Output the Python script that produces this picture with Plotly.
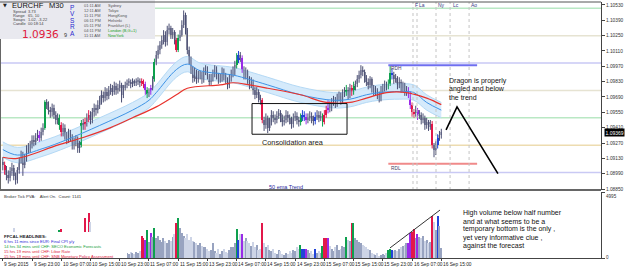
import plotly.graph_objects as go

# ---------------- data ----------------
tick_bars = [0, 16, 32, 48, 64, 80, 96, 112, 128, 144, 160, 176, 192, 208, 224, 240]
tick_text = ["9 Sep 2015", "9 Sep 23:00", "10 Sep 07:00", "10 Sep 15:00", "10 Sep 23:00",
             "11 Sep 07:00", "11 Sep 15:00", "13 Sep 23:00", "14 Sep 07:00", "14 Sep 15:00",
             "14 Sep 23:00", "15 Sep 07:00", "15 Sep 15:00", "15 Sep 23:00", "16 Sep 07:00",
             "16 Sep 15:00"]

opens = [
 1.0910, 1.0907, 1.0902, 1.0898, 1.0895, 1.0901, 1.0904, 1.0897, 1.0893, 1.0902,
 1.0911, 1.0916, 1.0907, 1.0913, 1.0921, 1.0922, 1.0925, 1.0930, 1.0928, 1.0932,
 1.0934, 1.0932, 1.0937, 1.0941, 1.0964, 1.0962, 1.0957, 1.0955, 1.0959, 1.0953,
 1.0948, 1.0950, 1.0943, 1.0937, 1.0941, 1.0934, 1.0930, 1.0936, 1.0932, 1.0925,
 1.0928, 1.0930, 1.0922, 1.0925, 1.0945, 1.0943, 1.0946, 1.0950, 1.0953, 1.0948,
 1.0955, 1.0959, 1.0957, 1.0962, 1.0966, 1.0971, 1.0968, 1.0974, 1.0970, 1.0975,
 1.0977, 1.0974, 1.0979, 1.0975, 1.0977, 1.0980, 1.0971, 1.0977, 1.0980, 1.0982,
 1.0983, 1.0981, 1.0983, 1.0982, 1.0983, 1.0984, 1.0982, 1.0983, 1.0981, 1.0975,
 1.0972, 1.0974, 1.0977, 1.0985, 1.1001, 1.1007, 1.1012, 1.1016, 1.1021, 1.1026,
 1.1019, 1.1030, 1.1032, 1.1026, 1.1028, 1.1021, 1.1012, 1.1023, 1.1026, 1.1035,
 1.1044, 1.1030, 1.1012, 1.1003, 1.0994, 1.0986, 1.0992, 1.0985, 1.0989, 1.0989,
 1.0985, 1.0992, 1.0994, 1.0988, 1.0983, 1.0986, 1.0990, 1.0994, 1.0989, 1.0985,
 1.0986, 1.0992, 1.0988, 1.0985, 1.0980, 1.0986, 1.0990, 1.0992, 1.0998, 1.1003,
 1.1007, 1.1005, 1.0994, 1.0989, 1.0992, 1.0985, 1.0980, 1.0983, 1.0975, 1.0971,
 1.0974, 1.0968, 1.0966, 1.0948, 1.0943, 1.0950, 1.0941, 1.0946, 1.0953, 1.0950,
 1.0948, 1.0952, 1.0954, 1.0950, 1.0946, 1.0948, 1.0953, 1.0950, 1.0948, 1.0944,
 1.0950, 1.0952, 1.0948, 1.0946, 1.0950, 1.0953, 1.0951, 1.0948, 1.0950, 1.0952,
 1.0949, 1.0947, 1.0951, 1.0953, 1.0950, 1.0952, 1.0946, 1.0953, 1.0957, 1.0962,
 1.0959, 1.0964, 1.0966, 1.0963, 1.0968, 1.0970, 1.0966, 1.0972, 1.0974, 1.0975,
 1.0971, 1.0977, 1.0974, 1.0979, 1.0981, 1.0985, 1.0989, 1.0994, 1.0992, 1.0986,
 1.0983, 1.0980, 1.0985, 1.0977, 1.0974, 1.0975, 1.0971, 1.0968, 1.0975, 1.0977,
 1.0980, 1.0979, 1.0981, 1.0991, 1.0989, 1.0985, 1.0986, 1.0980, 1.0983, 1.0977,
 1.0980, 1.0974, 1.0975, 1.0972, 1.0962, 1.0955, 1.0954, 1.0957, 1.0952, 1.0953,
 1.0948, 1.0950, 1.0943, 1.0946, 1.0942, 1.0944, 1.0925, 1.0921, 1.0925, 1.0932,
 1.0934]

highs = [
 1.0914, 1.0910, 1.0906, 1.0902, 1.0905, 1.0909, 1.0907, 1.0900, 1.0905, 1.0914,
 1.0920, 1.0919, 1.0917, 1.0925, 1.0927, 1.0929, 1.0934, 1.0934, 1.0936, 1.0939,
 1.0938, 1.0941, 1.0945, 1.0966, 1.0967, 1.0965, 1.0960, 1.0963, 1.0962, 1.0956,
 1.0954, 1.0953, 1.0946, 1.0945, 1.0944, 1.0937, 1.0940, 1.0939, 1.0935, 1.0932,
 1.0934, 1.0933, 1.0929, 1.0948, 1.0949, 1.0950, 1.0954, 1.0957, 1.0956, 1.0959,
 1.0963, 1.0962, 1.0966, 1.0970, 1.0975, 1.0974, 1.0978, 1.0977, 1.0979, 1.0981,
 1.0980, 1.0983, 1.0982, 1.0981, 1.0984, 1.0982, 1.0980, 1.0983, 1.0985, 1.0986,
 1.0985, 1.0986, 1.0985, 1.0986, 1.0987, 1.0986, 1.0986, 1.0985, 1.0983, 1.0978,
 1.0977, 1.0980, 1.0988, 1.1004, 1.1011, 1.1016, 1.1020, 1.1025, 1.1030, 1.1029,
 1.1034, 1.1036, 1.1034, 1.1032, 1.1030, 1.1023, 1.1026, 1.1030, 1.1039, 1.1048,
 1.1046, 1.1032, 1.1015, 1.1006, 1.0997, 1.0996, 1.0994, 1.0993, 1.0993, 1.0992,
 1.0996, 1.0998, 1.0997, 1.0990, 1.0990, 1.0994, 1.0998, 1.0997, 1.0991, 1.0990,
 1.0996, 1.0995, 1.0991, 1.0987, 1.0990, 1.0994, 1.0997, 1.1002, 1.1009, 1.1011,
 1.1010, 1.1007, 1.0997, 1.0996, 1.0994, 1.0988, 1.0987, 1.0985, 1.0978, 1.0978,
 1.0976, 1.0971, 1.0968, 1.0951, 1.0954, 1.0952, 1.0950, 1.0957, 1.0956, 1.0953,
 1.0956, 1.0958, 1.0957, 1.0953, 1.0952, 1.0957, 1.0956, 1.0953, 1.0951, 1.0954,
 1.0956, 1.0955, 1.0951, 1.0954, 1.0957, 1.0956, 1.0954, 1.0954, 1.0956, 1.0955,
 1.0952, 1.0955, 1.0957, 1.0956, 1.0956, 1.0954, 1.0957, 1.0961, 1.0966, 1.0965,
 1.0968, 1.0970, 1.0969, 1.0972, 1.0974, 1.0973, 1.0976, 1.0978, 1.0980, 1.0978,
 1.0981, 1.0980, 1.0983, 1.0984, 1.0989, 1.0993, 1.0998, 1.0997, 1.0994, 1.0989,
 1.0986, 1.0988, 1.0987, 1.0980, 1.0979, 1.0977, 1.0974, 1.0979, 1.0981, 1.0984,
 1.0983, 1.0985, 1.0998, 1.0995, 1.0992, 1.0990, 1.0988, 1.0987, 1.0985, 1.0983,
 1.0982, 1.0979, 1.0978, 1.0974, 1.0964, 1.0958, 1.0961, 1.0959, 1.0957, 1.0955,
 1.0954, 1.0952, 1.0950, 1.0948, 1.0948, 1.0947, 1.0927, 1.0929, 1.0935, 1.0938,
 1.0940]

lows = [
 1.0902, 1.0898, 1.0893, 1.0890, 1.0892, 1.0897, 1.0893, 1.0889, 1.0890, 1.0899,
 1.0908, 1.0897, 1.0904, 1.0910, 1.0917, 1.0918, 1.0922, 1.0924, 1.0925, 1.0929,
 1.0928, 1.0929, 1.0934, 1.0939, 1.0958, 1.0953, 1.0950, 1.0951, 1.0949, 1.0944,
 1.0944, 1.0939, 1.0933, 1.0933, 1.0930, 1.0926, 1.0927, 1.0928, 1.0921, 1.0921,
 1.0924, 1.0918, 1.0918, 1.0923, 1.0939, 1.0939, 1.0942, 1.0946, 1.0944, 1.0945,
 1.0951, 1.0952, 1.0954, 1.0958, 1.0962, 1.0964, 1.0965, 1.0966, 1.0967, 1.0971,
 1.0970, 1.0971, 1.0971, 1.0972, 1.0974, 1.0964, 1.0968, 1.0975, 1.0977, 1.0979,
 1.0977, 1.0978, 1.0979, 1.0979, 1.0980, 1.0978, 1.0979, 1.0977, 1.0971, 1.0968,
 1.0969, 1.0971, 1.0975, 1.0983, 1.0998, 1.1004, 1.1008, 1.1013, 1.1017, 1.1015,
 1.1016, 1.1026, 1.1022, 1.1022, 1.1017, 1.1010, 1.1010, 1.1020, 1.1024, 1.1032,
 1.1026, 1.1008, 1.0999, 1.0990, 1.0982, 1.0983, 1.0981, 1.0982, 1.0985, 1.0981,
 1.0982, 1.0989, 1.0985, 1.0979, 1.0980, 1.0983, 1.0987, 1.0985, 1.0981, 1.0982,
 1.0983, 1.0984, 1.0981, 1.0976, 1.0977, 1.0983, 1.0987, 1.0989, 1.0995, 1.1000,
 1.1001, 1.0991, 1.0985, 1.0985, 1.0981, 1.0976, 1.0977, 1.0971, 1.0967, 1.0968,
 1.0964, 1.0962, 1.0945, 1.0938, 1.0940, 1.0936, 1.0938, 1.0943, 1.0946, 1.0944,
 1.0945, 1.0949, 1.0946, 1.0942, 1.0943, 1.0945, 1.0946, 1.0944, 1.0940, 1.0941,
 1.0947, 1.0944, 1.0942, 1.0943, 1.0947, 1.0947, 1.0944, 1.0945, 1.0947, 1.0945,
 1.0943, 1.0944, 1.0948, 1.0946, 1.0947, 1.0942, 1.0944, 1.0950, 1.0954, 1.0955,
 1.0956, 1.0961, 1.0959, 1.0960, 1.0965, 1.0962, 1.0963, 1.0969, 1.0970, 1.0967,
 1.0968, 1.0970, 1.0971, 1.0975, 1.0978, 1.0982, 1.0986, 1.0988, 1.0982, 1.0979,
 1.0976, 1.0977, 1.0973, 1.0970, 1.0970, 1.0967, 1.0964, 1.0965, 1.0972, 1.0974,
 1.0975, 1.0976, 1.0979, 1.0985, 1.0981, 1.0982, 1.0976, 1.0977, 1.0973, 1.0974,
 1.0970, 1.0970, 1.0968, 1.0958, 1.0951, 1.0950, 1.0951, 1.0948, 1.0949, 1.0944,
 1.0945, 1.0939, 1.0940, 1.0938, 1.0939, 1.0922, 1.0914, 1.0916, 1.0922, 1.0929,
 1.0931]

closes = [
 1.0907, 1.0902, 1.0898, 1.0895, 1.0901, 1.0904, 1.0897, 1.0893, 1.0902, 1.0911,
 1.0916, 1.0907, 1.0913, 1.0921, 1.0922, 1.0925, 1.0930, 1.0928, 1.0932, 1.0934,
 1.0932, 1.0937, 1.0941, 1.0964, 1.0962, 1.0957, 1.0955, 1.0959, 1.0953, 1.0948,
 1.0950, 1.0943, 1.0937, 1.0941, 1.0934, 1.0930, 1.0936, 1.0932, 1.0925, 1.0928,
 1.0930, 1.0922, 1.0925, 1.0945, 1.0943, 1.0946, 1.0950, 1.0953, 1.0948, 1.0955,
 1.0959, 1.0957, 1.0962, 1.0966, 1.0971, 1.0968, 1.0974, 1.0970, 1.0975, 1.0977,
 1.0974, 1.0979, 1.0975, 1.0977, 1.0980, 1.0971, 1.0977, 1.0980, 1.0982, 1.0983,
 1.0981, 1.0983, 1.0982, 1.0983, 1.0984, 1.0982, 1.0983, 1.0981, 1.0975, 1.0972,
 1.0974, 1.0977, 1.0985, 1.1001, 1.1007, 1.1012, 1.1016, 1.1021, 1.1026, 1.1019,
 1.1030, 1.1032, 1.1026, 1.1028, 1.1021, 1.1012, 1.1023, 1.1026, 1.1035, 1.1044,
 1.1030, 1.1012, 1.1003, 1.0994, 1.0986, 1.0992, 1.0985, 1.0989, 1.0989, 1.0985,
 1.0992, 1.0994, 1.0988, 1.0983, 1.0986, 1.0990, 1.0994, 1.0989, 1.0985, 1.0986,
 1.0992, 1.0988, 1.0985, 1.0980, 1.0986, 1.0990, 1.0992, 1.0998, 1.1003, 1.1007,
 1.1005, 1.0994, 1.0989, 1.0992, 1.0985, 1.0980, 1.0983, 1.0975, 1.0971, 1.0974,
 1.0968, 1.0966, 1.0948, 1.0943, 1.0950, 1.0941, 1.0946, 1.0953, 1.0950, 1.0948,
 1.0952, 1.0954, 1.0950, 1.0946, 1.0948, 1.0953, 1.0950, 1.0948, 1.0944, 1.0950,
 1.0952, 1.0948, 1.0946, 1.0950, 1.0953, 1.0951, 1.0948, 1.0950, 1.0952, 1.0949,
 1.0947, 1.0951, 1.0953, 1.0950, 1.0952, 1.0946, 1.0953, 1.0957, 1.0962, 1.0959,
 1.0964, 1.0966, 1.0963, 1.0968, 1.0970, 1.0966, 1.0972, 1.0974, 1.0975, 1.0971,
 1.0977, 1.0974, 1.0979, 1.0981, 1.0985, 1.0989, 1.0994, 1.0992, 1.0986, 1.0983,
 1.0980, 1.0985, 1.0977, 1.0974, 1.0975, 1.0971, 1.0968, 1.0975, 1.0977, 1.0980,
 1.0979, 1.0981, 1.0991, 1.0989, 1.0985, 1.0986, 1.0980, 1.0983, 1.0977, 1.0980,
 1.0974, 1.0975, 1.0972, 1.0962, 1.0955, 1.0954, 1.0957, 1.0952, 1.0953, 1.0948,
 1.0950, 1.0943, 1.0946, 1.0942, 1.0944, 1.0925, 1.0921, 1.0925, 1.0932, 1.0934,
 1.09369]

volumes = [
 1200, 1500, 900, 1100, 800, 1300, 2260, 1000, 1400, 900,
 1100, 1300, 800, 1000, 700, 900, 1200, 800, 600, 900,
 1100, 700, 900, 1800, 1200, 1000, 800, 900, 700, 600,
 800, 2100, 2180, 900, 700, 800, 600, 900, 1000, 800,
 700, 1100, 900, 1700, 1300, 3040, 1600, 3430, 2730, 1500,
 1300, 1100, 1200, 900, 1000, 800, 900, 700, 800, 600,
 700, 900, 600, 500, 700, 1200, 800, 500, 350, 300,
 420, 380, 280, 450, 400, 500, 1700, 1500, 1330, 2100,
 1200, 1870, 1560, 2260, 1480, 1700, 1400, 1200, 1500, 1300,
 1100, 1400, 1250, 1600, 1800, 2650, 3040, 2260, 1870, 1700,
 1500, 1800, 1400, 1600, 1300, 1200, 1100, 1000, 1150, 900,
 850, 800, 700, 500, 600, 1100, 550, 400, 650, 300,
 500, 700, 450, 350, 600, 800, 800, 1100, 2180, 1400,
 1800, 1800, 1300, 1500, 1300, 1100, 900, 1200, 800, 1000,
 600, 700, 2650, 1100, 800, 1000, 600, 500, 700, 400,
 300, 600, 500, 300, 200, 400, 300, 500, 400, 600,
 500, 800, 700, 1000, 700, 700, 700, 600, 400, 500,
 300, 700, 400, 500, 350, 940, 1480, 1480, 1480, 900,
 700, 500, 800, 1000, 600, 700, 900, 800, 1560, 1400,
 1300, 2650, 2650, 1480, 1400, 1200, 1100, 1000, 900, 800,
 700, 600, 400, 300, 200, 350, 150, 250, 300, 250,
 400, 620, 700, 620, 500, 600, 550, 700, 800, 900,
 1000, 1100, 1170, 1870, 1950, 2180, 1480, 1800, 1600, 1500,
 1700, 1300, 1400, 1170, 1200, 3200, 2730, 2100, 3200, 2420,
 780]

# PVSRA bar classes (bar indices)
climax_bull = [23, 31, 43, 79, 83, 96, 128, 163, 175, 188, 192, 211, 212]
climax_bear = [1, 32, 45, 47, 76, 77, 95, 142, 176, 177, 191, 224, 225, 235]
rising_bear = [20, 78, 81, 131, 166, 178, 222, 223, 227]
rising_bull = [129, 164, 165, 171, 213, 238]

# 50 EMA "dragon" band and trend EMA
band_bars = [0, 8, 22, 35, 53, 71, 80, 84, 95, 101, 108, 126, 135, 145, 163, 181, 190, 199, 206, 217, 225, 232, 240]
band_mid = [1.0921, 1.0916, 1.0922, 1.0930, 1.0943, 1.0957, 1.0966, 1.0973, 1.0994, 1.0999, 1.0993, 1.0989,
            1.0985, 1.0980, 1.0971, 1.0966, 1.0967, 1.0971, 1.0973, 1.0974, 1.0973, 1.0964, 1.0957]
band_up = [1.0928, 1.0923, 1.0929, 1.0937, 1.0950, 1.0964, 1.0973, 1.0980, 1.1001, 1.1006, 1.1000, 1.0996,
           1.0992, 1.0987, 1.0978, 1.0973, 1.0974, 1.0978, 1.0980, 1.0981, 1.0980, 1.0971, 1.0964]
band_lo = [1.0914, 1.0909, 1.0915, 1.0923, 1.0936, 1.0950, 1.0959, 1.0966, 1.0987, 1.0992, 1.0986, 1.0982,
           1.0978, 1.0973, 1.0964, 1.0959, 1.0960, 1.0964, 1.0966, 1.0967, 1.0966, 1.0957, 1.0950]
trend_bars = [0, 8, 30, 44, 59, 71, 84, 95, 101, 119, 126, 135, 145, 163, 177, 190, 199, 210, 221, 232, 240]
trend_ema = [1.0914, 1.0913, 1.0925, 1.0932, 1.0941, 1.0950, 1.0960, 1.0971, 1.0977, 1.0980, 1.0982, 1.0980,
             1.0977, 1.0971, 1.0964, 1.0964, 1.0968, 1.0973, 1.0973, 1.0968, 1.0962]

quarter_levels = [1.1050, 1.1025, 1.1000, 1.0975, 1.0950, 1.0925, 1.0900]
quarter_colors = ["#b9e8c4", "#e6e3d2", "#c9c9f4", "#e6e3d2", "#b9e8c4", "#eddcb0", "#c9c9f4"]
rdh, rdl = 1.0998, 1.0908
rd_span = [211, 259.6]
session_bars = [224.5, 226.7, 237.1, 244.8, 255.2]
session_names = ["F", "La", "Ny", "Lc", "Ao"]
consol_box = dict(b0=136.4, b1=188.4, p0=1.0935, p1=1.0963)
dragon_path_bars = [242.6, 248.6, 271.0]
dragon_path_prices = [1.0939, 1.0960, 1.0899]
vol_line_bars = [211.9, 239.3]
vol_line_vals = [760, 3630]

price_ticks = [1.08850, 1.08990, 1.09130, 1.09270, 1.09410, 1.09550, 1.09690,
               1.09830, 1.09970, 1.10110, 1.10250, 1.10390, 1.10530]
vol_ticks = [0, 4995]

# ---------------- figure ----------------
PW, TOP, BOT = 601, 2, 258


def px(X):
    return X / PW


def py(Y):
    return (BOT - Y) / (BOT - TOP)


n = len(closes)
idx = list(range(n))
cls = {}
for i in climax_bull: cls[i] = "g"
for i in climax_bear: cls[i] = "r"
for i in rising_bear: cls[i] = "p"
for i in rising_bull: cls[i] = "b"
special = {"g": "#0ea04e", "r": "#e2184a", "p": "#9a2ae8", "b": "#2244d8"}

fig = go.Figure()

# dragon band
fig.add_trace(go.Scatter(x=band_bars, y=band_lo, mode="lines",
                         line=dict(color="#b4d9f5", width=1, shape="spline"), hoverinfo="skip"))
fig.add_trace(go.Scatter(x=band_bars, y=band_up, mode="lines", fill="tonexty",
                         fillcolor="rgba(208,232,251,0.9)",
                         line=dict(color="#b4d9f5", width=1, shape="spline"), hoverinfo="skip"))

# candle bodies
body_col = []
for i in idx:
    if i in cls:
        body_col.append(special[cls[i]])
    else:
        body_col.append("#b6b8c8" if closes[i] >= opens[i] else "#8c8fa4")
fig.add_trace(go.Bar(x=idx, y=[abs(closes[i] - opens[i]) for i in idx],
                     base=[min(closes[i], opens[i]) for i in idx], width=1.1,
                     marker=dict(color=body_col, line=dict(width=0)), yaxis="y", hoverinfo="skip"))

# wicks
groups = {"n": "#4a4e72", **special}
for key, col in groups.items():
    xs, ys = [], []
    for i in idx:
        if cls.get(i, "n") == key:
            xs += [i, i, None]
            ys += [lows[i], highs[i], None]
    fig.add_trace(go.Scatter(x=xs, y=ys, mode="lines", line=dict(color=col, width=1),
                             hoverinfo="skip", connectgaps=False))

# EMA lines
fig.add_trace(go.Scatter(x=band_bars, y=band_mid, mode="lines",
                         line=dict(color="#3f93e6", width=1, shape="spline"), hoverinfo="skip"))
fig.add_trace(go.Scatter(x=trend_bars, y=trend_ema, mode="lines",
                         line=dict(color="#e8322c", width=1.2, shape="spline"), hoverinfo="skip"))

# volume
vol_col = []
for i in idx:
    if i in cls:
        vol_col.append(special[cls[i]])
    else:
        vol_col.append("#98a3c0" if closes[i] >= opens[i] else "#cdd4e6")
fig.add_trace(go.Bar(x=idx, y=volumes, width=0.72, yaxis="y2",
                     marker=dict(color=vol_col, line=dict(width=0)), hoverinfo="skip"))

shapes = []
for lvl, col in zip(quarter_levels, quarter_colors):
    shapes.append(dict(type="line", xref="paper", x0=0, x1=1, yref="y", y0=lvl, y1=lvl,
                       line=dict(color=col, width=1.5), layer="below"))
shapes.append(dict(type="line", xref="x", x0=rd_span[0], x1=rd_span[1], yref="y", y0=rdh, y1=rdh,
                   line=dict(color="#6f6ff0", width=2)))
shapes.append(dict(type="line", xref="x", x0=rd_span[0], x1=rd_span[1], yref="y", y0=rdl, y1=rdl,
                   line=dict(color="#f08a8a", width=2)))
for b in session_bars:
    shapes.append(dict(type="line", xref="x", x0=b, x1=b, yref="paper", y0=py(190), y1=py(TOP),
                       line=dict(color="#c4c4c4", width=1, dash="dot")))
shapes.append(dict(type="rect", xref="x", x0=consol_box["b0"], x1=consol_box["b1"], yref="y",
                   y0=consol_box["p0"], y1=consol_box["p1"], line=dict(color="#111", width=1)))
path = "M " + " L ".join(f"{b},{p}" for b, p in zip(dragon_path_bars, dragon_path_prices))
shapes.append(dict(type="path", xref="x", yref="y", path=path, line=dict(color="#000", width=1.6)))
shapes.append(dict(type="line", xref="x", yref="y2", x0=vol_line_bars[0], x1=vol_line_bars[1],
                   y0=vol_line_vals[0], y1=vol_line_vals[1], line=dict(color="#333", width=1)))
# FFCAL panel (covers bars) and info panel
shapes.append(dict(type="rect", xref="paper", yref="paper", x0=0, x1=px(127), y0=py(BOT), y1=py(232),
                   fillcolor="white", line=dict(width=0), layer="above"))
shapes.append(dict(type="rect", xref="paper", yref="paper", x0=0, x1=px(155), y0=py(39), y1=py(0),
                   fillcolor="#e9e9ef", line=dict(width=0), layer="above"))
# frame
shapes.append(dict(type="line", xref="paper", yref="paper", x0=0, x1=1, y0=py(TOP), y1=py(TOP),
                   line=dict(color="#555", width=1)))
shapes.append(dict(type="line", xref="paper", yref="paper", x0=0, x1=1, y0=py(190), y1=py(190),
                   line=dict(color="#666", width=2)))
shapes.append(dict(type="line", xref="paper", yref="paper", x0=px(0.5), x1=px(0.5), y0=py(190), y1=py(39),
                   line=dict(color="#666", width=1)))

F = "Liberation Sans"


def T(X, Y, text, size=5, color="#333", anchor="left", family=F, yanchor="middle"):
    return dict(x=px(X), y=py(Y), xref="paper", yref="paper", text=text, showarrow=False,
                xanchor=anchor, yanchor=yanchor, borderpad=0,
                font=dict(size=size, color=color, family=family))


bid_text = f"{int(closes[-1] * 10000 + 1e-6) / 10000:.4f}"
bid_last = f"{closes[-1]:.5f}"[-1]

ann = []
# info panel
ann.append(T(2, 5, "▼", 5, "#222", family="DejaVu Sans"))
ann.append(T(11, 5, "EURCHF", 7.5, "#111"))
ann.append(T(48, 5, "M30", 7.5, "#111"))
for k, (lab, val) in enumerate([("Spread", "3.73"), ("Range", "65, 10"), ("Swaps", "1.02, -3.22"),
                                ("Candle", "00:18:14")]):
    ann.append(T(12, 11 + 4.3 * k, lab, 4, "#444"))
    ann.append(T(27, 11 + 4.3 * k, val, 4, "#444"))
ann.append(T(21, 33.5, bid_text, 10.5, "#e0203c", family="DejaVu Sans"))
ann.append(T(63, 35, bid_last, 5.5, "#333"))
for k, ch in enumerate("PVSRA"):
    ann.append(T(72, 7 + 6.6 * k, ch, 6.5, "#2a2ad0", anchor="center"))
clocks = [("01:11 AM", "Sydney"), ("12:11 AM", "Tokyo"), ("11:11 PM", "HongKong"), ("06:11 PM", "Helsinki"),
          ("05:11 PM", "Frankfurt (L)"), ("04:11 PM", "London (B,G+1)"), ("11:11 AM", "NewYork")]
for k, (t, c) in enumerate(clocks):
    ann.append(T(83, 5 + 5 * k, t, 4, "#555"))
    ann.append(T(107, 5 + 5 * k, c, 4, "#22a022" if k >= 5 else "#555"))
# sessions
sess_x = [414, 418, 437, 452, 470]
for X, s in zip(sess_x, session_names):
    ann.append(T(X, 5, s, 5, "#3a3a88"))
ann.append(T(390, 68, "RDH", 4.8, "#444466"))
ann.append(T(390, 168, "RDL", 4.8, "#444466"))
ann.append(T(293, 142, "Consolidation area", 7.3, "#222", anchor="center"))
for k, line in enumerate(["Dragon is properly", "angled and below", "the trend"]):
    ann.append(T(448, 81 + 8 * k, line, 7, "#111"))
ann.append(T(268, 187, "50 ema Trend", 5.5, "#2b2ba0"))
# volume pane texts
ann.append(T(3, 196, "Broker Tick PVA:&nbsp;&nbsp;&nbsp; Alert On.&nbsp;&nbsp;Count: 1141", 4.2, "#333"))
ann.append(T(3, 236, "<b>FFCAL HEADLINES:</b>", 4.4, "#222"))
ff = [("6 hrs 11 mins since EUR: Final CPI y/y", "#2b2bd6"),
      ("14 hrs 34 mins until CHF: SECO Economic Forecasts", "#17a03a"),
      ("15 hrs 19 mins until CHF: Libor Rate", "#e0203c"),
      ("15 hrs 19 mins until CHF: SNB Monetary Policy Assessment", "#e0203c")]
for k, (t, c) in enumerate(ff):
    ann.append(T(3, 241.5 + 5 * k, t, 4.1, c))
for k, line in enumerate(["High volume below half number", "and at what seems to be a",
                          "temporary bottom is the only ,", "yet very informative clue ,",
                          "against the forecast"]):
    ann.append(T(462, 213 + 8.2 * k, line, 7, "#111"))
# x labels (left aligned at tick like MT4)
for b, t in zip(tick_bars, tick_text):
    ann.append(dict(x=b, y=py(264), xref="x", yref="paper", text=t, showarrow=False, xanchor="left",
                    xshift=0.5, yanchor="middle", borderpad=0,
                    font=dict(size=4.8, color="#222", family=F)))
# volume axis labels
ann.append(T(605, 192.5, str(vol_ticks[1]), 4.6, "#333", yanchor="top"))
ann.append(T(605, 257, str(vol_ticks[0]), 4.6, "#333"))
# current price box
ann.append(dict(x=1, y=closes[-1], xref="paper", yref="y", xanchor="left", yanchor="middle", xshift=3,
                text=f"{closes[-1]:.5f}", showarrow=False, bgcolor="#000", borderpad=0.5,
                font=dict(size=5, color="#fff", family=F)))

fig.update_layout(
    width=625, height=270, margin=dict(l=0, r=24, t=TOP, b=270 - BOT),
    paper_bgcolor="white", plot_bgcolor="white", showlegend=False, barmode="overlay",
    bargap=0, shapes=shapes, annotations=ann, hovermode=False,
    xaxis=dict(range=[-1.53, 327.4], anchor="y2", showticklabels=False, tickvals=tick_bars,
               ticks="outside", ticklen=2, tickcolor="#444", showgrid=False, zeroline=False,
               showline=True, linecolor="#444", linewidth=1),
    yaxis=dict(domain=[py(190), 1], range=[1.08841, 1.10557], side="right", anchor="x",
               tickvals=price_ticks, ticktext=[f"{v:.5f}" for v in price_ticks],
               tickfont=dict(size=4.8, color="#333", family=F), ticks="outside", ticklen=3,
               tickcolor="#444", showgrid=False, zeroline=False, showline=True,
               linecolor="#444", linewidth=1),
    yaxis2=dict(domain=[0, py(192)], range=[0, 4995], side="right", anchor="x",
                tickvals=vol_ticks, showticklabels=False, ticks="outside", ticklen=3,
                tickcolor="#444", showgrid=False, zeroline=False, showline=True,
                linecolor="#444", linewidth=1),
)

fig.write_html("out.html")
